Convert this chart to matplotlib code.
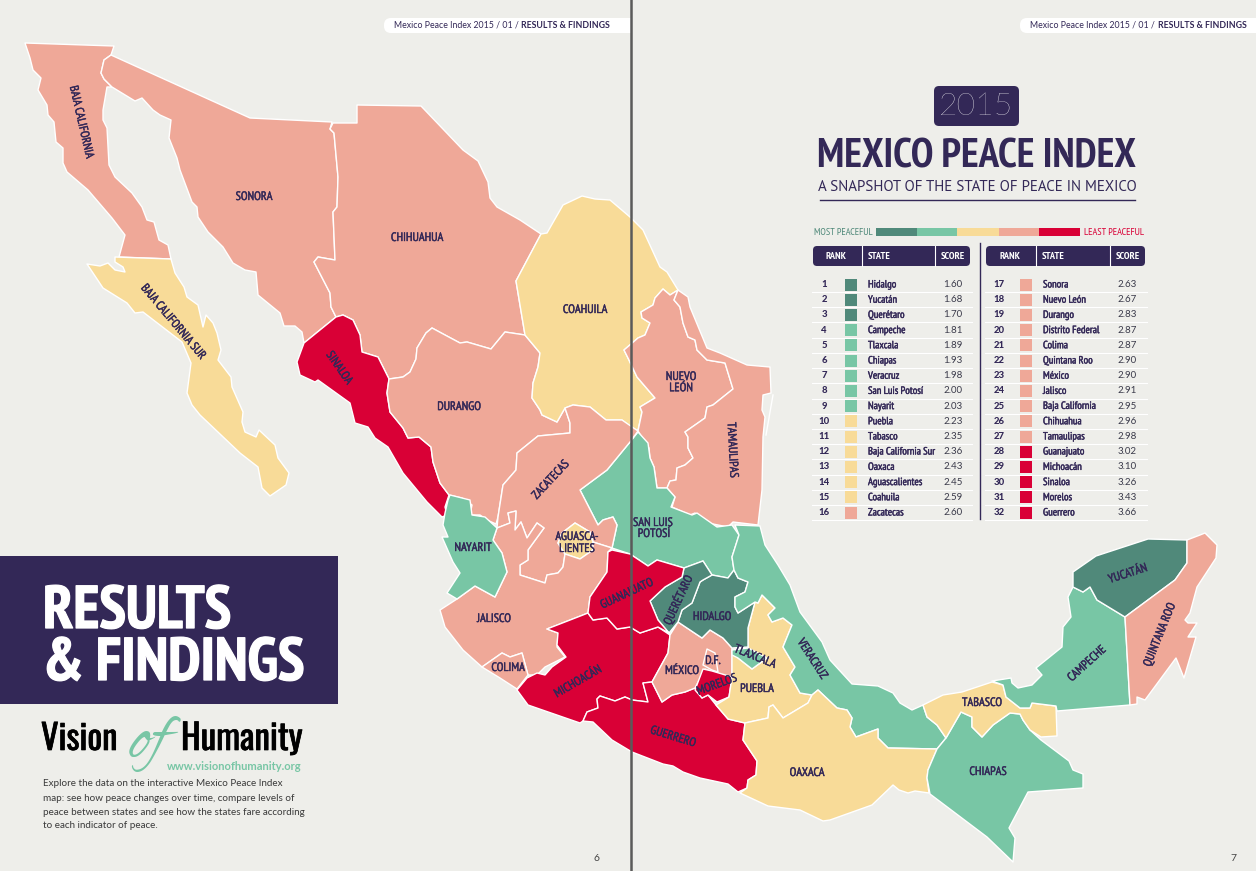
import matplotlib
matplotlib.use('Agg')
import logging
import matplotlib.pyplot as plt
import matplotlib.patheffects as pe
from matplotlib.patches import Polygon, Rectangle, FancyBboxPatch

logging.getLogger('matplotlib.font_manager').setLevel(logging.ERROR)

NAVY = '#332857'
BG = '#EEEEEA'
DARK_GREEN = '#50897A'
GREEN = '#78C6A5'
YELLOW = '#F8DB98'
SALMON = '#EFA898'
RED = '#D90036'
NARROW = ['PT Sans Narrow', 'Liberation Sans Narrow', 'Roboto', 'DejaVu Sans']
WIDE = ['Lato', 'Open Sans', 'DejaVu Sans']
LOGO = ['Oswald', 'PT Sans Narrow', 'Roboto', 'DejaVu Sans']

# ranking table
ranks_left = list(range(1, 17))
states_left = ['Hidalgo', 'Yucatán', 'Querétaro', 'Campeche', 'Tlaxcala', 'Chiapas', 'Veracruz',
               'San Luis Potosí', 'Nayarit', 'Puebla', 'Tabasco', 'Baja California Sur', 'Oaxaca',
               'Aguascalientes', 'Coahuila', 'Zacatecas']
scores_left = [1.60, 1.68, 1.70, 1.81, 1.89, 1.93, 1.98, 2.00, 2.03, 2.23, 2.35, 2.36, 2.43, 2.45, 2.59, 2.60]

ranks_right = list(range(17, 33))
states_right = ['Sonora', 'Nuevo León', 'Durango', 'Distrito Federal', 'Colima', 'Quintana Roo', 'México',
                'Jalisco', 'Baja California', 'Chihuahua', 'Tamaulipas', 'Guanajuato', 'Michoacán',
                'Sinaloa', 'Morelos', 'Guerrero']
scores_right = [2.63, 2.67, 2.83, 2.87, 2.87, 2.90, 2.90, 2.91, 2.95, 2.96, 2.98, 3.02, 3.10, 3.26, 3.43, 3.66]

# state outlines, in page pixels
baja_california = [(25,43),(114,46),(111,55),(104,60),(101,73),(104,79),(112,87),(107,87),(103,110),(103,120),
                   (107,128),(109,165),(115,177),(132,193),(142,207),(147,220),(154,222),(159,240),(168,245),
                   (171,259),(119,257),(125,235),(112,218),(88,190),(67,172),(63,163),(63,148),(56,142),
                   (54,122),(48,115),(47,105),(38,90),(41,78),(33,70),(30,58)]
baja_sur = [(115,257),(171,259),(175,273),(184,287),(187,297),(198,305),(203,327),(206,315),(213,323),(217,333),
            (221,350),(218,360),(231,377),(232,387),(243,412),(242,422),(245,432),(256,437),(259,430),(275,445),
            (278,458),(289,473),(286,485),(270,496),(262,488),(258,467),(240,453),(200,415),(192,405),(187,393),
            (191,363),(182,342),(143,312),(135,313),(127,303),(103,288),(87,264),(100,266),(108,263),(115,270),
            (125,272),(123,267),(115,262)]
sonora = [(111,55),(250,118),(332,122),(330,129),(334,133),(338,177),(337,207),(333,212),(335,260),(318,257),
          (314,262),(330,293),(331,307),(336,317),(304,343),(302,332),(295,326),(284,326),(280,313),(258,295),
          (256,272),(245,270),(233,263),(223,247),(208,232),(198,217),(197,207),(192,202),(180,170),(177,158),
          (169,138),(171,120),(160,115),(153,110),(142,98),(135,101),(112,87),(104,79),(101,73),(104,60)]
chihuahua = [(333,123),(357,123),(357,105),(421,106),(463,150),(478,161),(488,182),(490,198),(497,207),(520,220),
             (541,234),(516,281),(525,335),(505,332),(491,349),(467,342),(460,343),(445,335),(432,328),(426,333),
             (417,348),(416,359),(410,372),(403,377),(389,379),(378,357),(362,352),(360,335),(353,320),(343,315),
             (336,317),(331,307),(330,293),(314,262),(318,257),(335,260),(333,212),(337,207),(338,177),(334,133),
             (330,129)]
sinaloa = [(304,343),(336,317),(343,315),(353,320),(360,335),(362,352),(378,357),(389,379),(387,393),(390,412),
           (403,428),(408,438),(419,437),(431,447),(433,462),(440,483),(449,495),(445,507),(447,515),(442,517),
           (427,502),(403,473),(388,447),(375,438),(368,427),(355,423),(350,403),(318,380),(315,382),(300,375),
           (297,362)]
durango = [(389,379),(403,377),(410,372),(416,359),(417,348),(426,333),(432,328),(445,335),(460,343),(467,342),
           (491,349),(505,332),(525,335),(540,353),(538,367),(533,383),(532,398),(540,410),(542,415),(557,422),
           (565,408),(570,423),(570,433),(538,436),(517,453),(516,470),(503,485),(498,517),(496,524),(487,520),
           (480,515),(470,515),(472,505),(462,498),(449,495),(440,483),(433,462),(431,447),(419,437),(408,438),
           (403,428),(390,412),(387,393)]
coahuila = [(541,234),(547,233),(563,205),(582,196),(595,199),(610,200),(630,217),(643,230),(660,267),(667,272),
            (678,290),(670,295),(663,289),(655,298),(653,305),(641,312),(642,318),(650,323),(645,335),(638,338),
            (624,350),(628,358),(637,377),(655,398),(640,407),(642,412),(638,430),(633,429),(622,420),(606,420),
            (590,407),(573,405),(565,408),(557,422),(542,415),(540,410),(532,398),(533,383),(538,367),(540,353),
            (525,335),(516,281)]
nuevo_leon = [(663,289),(670,295),(678,290),(674,300),(680,307),(683,323),(688,337),(695,340),(697,350),(707,360),
              (725,363),(733,389),(713,405),(707,407),(705,418),(685,432),(688,437),(688,448),(693,458),(685,465),
              (677,468),(676,480),(670,481),(667,488),(657,488),(654,467),(650,458),(649,448),(638,431),(642,412),
              (640,407),(655,398),(637,377),(628,358),(624,350),(638,338),(645,335),(650,323),(642,318),(641,312),
              (653,305),(655,298)]
tamaulipas = [(678,290),(688,297),(690,307),(707,348),(720,353),(747,365),(770,367),(771,393),(763,395),(762,410),
              (765,417),(763,437),(762,490),(758,525),(733,522),(728,527),(703,522),(695,513),(690,515),(672,507),
              (675,497),(667,488),(670,481),(676,480),(677,468),(685,465),(693,458),(688,448),(688,437),(685,432),
              (705,418),(707,407),(713,405),(733,389),(725,363),(707,360),(697,350),(695,340),(688,337),(683,323),
              (680,307),(674,300)]
san_luis = [(638,432),(648,443),(650,458),(654,467),(657,488),(667,488),(675,497),(671,507),(692,515),(697,513),
            (717,527),(732,525),(739,535),(732,557),(734,570),(728,578),(712,575),(703,561),(684,568),(657,560),
            (648,566),(630,554),(612,548),(617,525),(613,517),(603,520),(598,525),(580,490),(607,470),(630,442)]
zacatecas = [(565,408),(573,405),(590,407),(606,420),(622,420),(638,431),(630,442),(607,470),(580,490),(598,525),
             (603,520),(613,517),(617,525),(612,548),(593,542),(590,532),(575,523),(562,533),(558,543),(565,554),
             (563,567),(558,573),(547,575),(545,583),(520,575),(520,565),(528,560),(528,550),(544,528),(537,523),
             (527,538),(521,522),(515,530),(516,511),(508,513),(510,523),(497,528),(498,517),(503,485),(516,470),
             (517,453),(538,436),(570,433),(570,423)]
aguascalientes = [(575,523),(590,532),(593,542),(593,550),(580,559),(565,554),(558,543),(562,533)]
jalisco = [(497,528),(493,540),(502,553),(507,572),(495,597),(475,586),(457,599),(440,610),(445,627),(463,650),
           (482,667),(502,653),(510,657),(522,653),(528,675),(537,675),(545,667),(565,657),(557,647),(558,633),
           (547,629),(583,615),(588,613),(590,597),(607,572),(608,552),(612,548),(593,542),(593,550),(580,559),
           (565,554),(563,567),(558,573),(547,575),(545,583),(520,575),(520,565),(528,560),(528,550),(544,528),
           (537,523),(527,538),(521,522),(515,530),(516,511),(508,513),(510,523)]
nayarit = [(450,495),(470,500),(472,515),(485,517),(497,528),(493,540),(502,553),(507,572),(495,597),(475,586),
           (457,599),(447,593),(460,573),(453,562),(442,537),(448,537),(443,525),(445,513),(448,500)]
colima = [(482,667),(502,653),(510,657),(522,653),(528,675),(517,689),(500,678)]
michoacan = [(547,629),(583,615),(588,613),(593,620),(607,618),(617,629),(630,627),(640,633),(658,627),(670,635),
             (668,653),(652,682),(643,683),(648,702),(632,700),(625,697),(615,701),(600,696),(597,699),(598,708),
             (587,712),(583,721),(580,723),(528,705),(517,690),(527,678),(537,673),(545,675),(552,667),(566,657),
             (557,645),(558,633)]
guerrero = [(583,721),(587,712),(598,708),(597,699),(600,696),(615,701),(625,697),(632,700),(648,702),(643,683),
            (652,682),(662,702),(672,695),(685,692),(695,688),(702,698),(708,695),(716,705),(728,719),(745,723),
            (743,740),(757,761),(756,775),(748,780),(747,788),(738,792),(728,784),(700,778),(683,772),(673,766),
            (663,764),(632,752),(612,740),(593,722)]
mexico_state = [(678,622),(702,638),(710,630),(723,638),(732,648),(732,677),(728,677),(705,669),(695,688),(685,692),
                (672,695),(662,702),(652,682),(668,653),(670,635)]
distrito_federal = [(707,649),(715,653),(718,672),(712,670),(703,665),(705,657)]
morelos = [(703,669),(712,671),(732,677),(729,697),(717,702),(708,695),(702,698),(695,690)]
puebla = [(762,595),(775,608),(768,615),(772,622),(783,618),(792,625),(783,647),(795,667),(790,675),(800,693),
          (812,695),(808,703),(783,718),(773,705),(769,707),(768,718),(745,723),(728,719),(716,705),(729,697),
          (732,677),(732,650),(738,658),(752,669),(767,658),(748,648),(748,628),(755,602),(758,603)]
tlaxcala = [(732,650),(748,648),(767,658),(752,669),(738,658),(732,655)]
hidalgo = [(703,580),(712,575),(728,578),(734,570),(738,578),(748,582),(745,592),(735,597),(735,607),(738,613),
           (755,602),(748,628),(748,647),(732,648),(723,638),(710,630),(702,638),(678,622),(682,610),(692,603),(700,582)]
queretaro = [(684,568),(703,561),(712,575),(703,580),(700,582),(692,603),(682,610),(678,622),(669,633),(658,620),
             (650,601),(665,587),(682,577)]
guanajuato = [(612,550),(630,554),(648,566),(657,560),(684,568),(682,577),(665,587),(650,601),(658,620),(669,633),
              (658,627),(640,633),(630,627),(617,629),(607,618),(593,620),(588,613),(590,597),(607,572),(608,552)]
veracruz = [(735,525),(760,526),(765,545),(778,565),(790,585),(800,612),(822,642),(830,660),(852,684),(878,686),
            (893,693),(900,703),(912,710),(923,705),(927,717),(937,725),(946,738),(937,749),(888,748),(878,738),
            (878,729),(856,737),(850,727),(852,718),(847,710),(837,708),(818,690),(812,695),(800,693),(790,675),
            (795,667),(783,647),(792,625),(783,618),(772,622),(768,615),(775,608),(762,595),(758,603),(755,602),
            (738,613),(735,607),(735,597),(745,592),(748,582),(738,578),(734,570),(732,557),(739,535)]
oaxaca = [(745,723),(768,718),(769,707),(773,705),(783,718),(808,703),(812,695),(818,690),(837,708),(847,710),
          (852,718),(850,727),(856,737),(878,729),(878,738),(888,748),(937,749),(928,770),(927,778),(929,793),
          (915,791),(908,793),(899,790),(893,785),(872,805),(830,820),(823,821),(800,810),(768,806),(740,793),
          (747,788),(748,780),(756,775),(757,761),(743,740)]
chiapas = [(961,712),(972,717),(972,727),(982,737),(993,725),(1010,713),(1020,714),(1023,720),(1030,730),(1041,740),
           (1069,761),(1073,770),(1083,774),(1083,788),(1028,792),(1009,828),(1015,838),(1013,862),(987,837),
           (930,794),(927,778),(928,770),(937,749),(946,738)]
tabasco = [(923,705),(943,695),(962,692),(992,682),(1003,685),(1006,697),(1020,708),(1030,708),(1032,703),(1056,706),
           (1057,736),(1041,737),(1030,730),(1023,720),(1020,714),(1010,713),(993,725),(982,737),(972,727),(972,717),
           (961,712),(946,738),(937,725),(927,717)]
campeche = [(992,681),(1011,678),(1012,683),(1018,688),(1032,685),(1042,675),(1036,668),(1062,647),(1063,627),
            (1071,617),(1068,597),(1073,587),(1083,592),(1090,587),(1097,600),(1125,617),(1130,705),(1057,711),
            (1056,706),(1032,703),(1030,708),(1020,708),(1006,697),(1003,685)]
yucatan = [(1073,572),(1096,556),(1148,539),(1187,540),(1187,563),(1175,580),(1152,597),(1125,617),(1097,600),
           (1090,587),(1083,592),(1073,587)]
quintana_roo = [(1187,540),(1200,535),(1205,533),(1217,545),(1216,558),(1197,587),(1190,613),(1185,620),(1188,623),
                (1197,623),(1188,637),(1196,637),(1184,678),(1176,658),(1145,700),(1137,697),(1137,704),(1130,705),
                (1125,617),(1152,597),(1175,580),(1187,563)]

outlines = {
    'Baja California': baja_california, 'Baja California Sur': baja_sur, 'Sonora': sonora, 'Chihuahua': chihuahua,
    'Sinaloa': sinaloa, 'Durango': durango, 'Coahuila': coahuila, 'Nuevo León': nuevo_leon, 'Tamaulipas': tamaulipas,
    'San Luis Potosí': san_luis, 'Zacatecas': zacatecas, 'Aguascalientes': aguascalientes, 'Jalisco': jalisco,
    'Nayarit': nayarit, 'Colima': colima, 'Michoacán': michoacan, 'Guerrero': guerrero, 'México': mexico_state,
    'Distrito Federal': distrito_federal, 'Morelos': morelos, 'Puebla': puebla, 'Tlaxcala': tlaxcala,
    'Hidalgo': hidalgo, 'Querétaro': queretaro, 'Guanajuato': guanajuato, 'Veracruz': veracruz, 'Oaxaca': oaxaca,
    'Chiapas': chiapas, 'Tabasco': tabasco, 'Campeche': campeche, 'Yucatán': yucatan, 'Quintana Roo': quintana_roo,
}

# text, x, y, rotation
map_labels = [
    ('BAJA CALIFORNIA', 81, 122, -77), ('BAJA CALIFORNIA SUR', 173, 322, -50), ('SONORA', 254, 197, 0),
    ('CHIHUAHUA', 417, 238, 0), ('COAHUILA', 585, 310, 0), ('NUEVO', 681, 377, 0), ('LEÓN', 681, 388, 0),
    ('TAMAULIPAS', 732, 450, -87), ('SINALOA', 339, 368, -55), ('DURANGO', 459, 407, 0), ('ZACATECAS', 551, 480, 47),
    ('NAYARIT', 473, 548, 0), ('AGUASCA-', 577, 537, 0), ('LIENTES', 577, 549, 0), ('SAN LUIS', 653, 523, 0),
    ('POTOSÍ', 654, 534, 0), ('GUANAJUATO', 627, 594, 25), ('QUERÉTARO', 678, 600, 65), ('HIDALGO', 712, 617, 0),
    ('JALISCO', 494, 619, 0), ('COLIMA', 508, 668, 0), ('MICHOACÁN', 578, 682, 30), ('MÉXICO', 682, 671, 0),
    ('D.F.', 713, 661, 0), ('MORELOS', 717, 685, 20), ('TLAXCALA', 755, 657, -22), ('PUEBLA', 757, 689, 0),
    ('VERACRUZ', 812, 659, -57), ('GUERRERO', 673, 737, -17), ('OAXACA', 807, 773, 0), ('TABASCO', 982, 703, 0),
    ('CHIAPAS', 988, 772, 0), ('CAMPECHE', 1087, 664, 42), ('YUCATÁN', 1128, 574, 18), ('QUINTANA ROO', 1160, 635, 68),
]

blurb = ['Explore the data on the interactive Mexico Peace Index',
         'map: see how peace changes over time, compare levels of',
         'peace between states and see how the states fare according',
         'to each indicator of peace.']


def scoreColour(score):
    if score <= 1.70:
        return DARK_GREEN
    if score <= 2.03:
        return GREEN
    if score <= 2.59:
        return YELLOW
    if score <= 2.98:
        return SALMON
    return RED


def pill(ax, x0, x1, y0, y1, colour, rad):
    ax.add_patch(FancyBboxPatch((x0 + rad, y0 + rad), x1 - x0 - 2 * rad, y1 - y0 - 2 * rad,
                                boxstyle='round,pad=%f,rounding_size=%f' % (rad, rad),
                                fc=colour, ec='none', zorder=3))


def heavier(width, colour):
    # the installed weights are a little lighter than the print
    return [pe.withStroke(linewidth=width, foreground=colour)]


fig = plt.figure(figsize=(12.56, 8.71), dpi=100, facecolor=BG)
ax = fig.add_axes([0, 0, 1, 1])
ax.set_xlim(0, 1256)
ax.set_ylim(871, 0)
ax.axis('off')

all_states = states_left + states_right
all_scores = scores_left + scores_right
score_of = dict(zip(all_states, all_scores))

# map
for name, pts in outlines.items():
    ax.add_patch(Polygon(pts, closed=True, fc=scoreColour(score_of[name]), ec='white', lw=1.0,
                         joinstyle='round', zorder=1))
ax.plot([773, 766], [395, 435], color='white', lw=1.0, zorder=1)

for label, x, y, rot in map_labels:
    ax.text(x, y, label, family=NARROW, fontsize=8.8, color=NAVY, rotation=rot, rotation_mode='anchor',
            ha='center', va='center', zorder=4, path_effects=heavier(0.3, NAVY))

# running heads
pill(ax, 384, 650, 18, 33, 'white', 7)
pill(ax, 1020, 1290, 18, 33, 'white', 7)
ax.add_patch(Rectangle((632, 14), 30, 24, fc=BG, ec='none', zorder=3.5))
for x_head, x_end in [(394, 610), (1030, 1247)]:
    ax.text(x_head, 25.5, 'Mexico Peace Index 2015 / 01 /', family=WIDE, fontsize=6.3, color=NAVY,
            va='center', zorder=5)
    ax.text(x_end, 25.5, 'RESULTS & FINDINGS', family=WIDE, fontsize=6.3, fontweight='bold', color=NAVY,
            ha='right', va='center', zorder=5)

# left panel
ax.add_patch(Rectangle((0, 556), 338, 148, fc=NAVY, ec='none', zorder=2))
ax.text(43, 628, 'RESULTS', family=NARROW, fontsize=43.5, fontweight='bold', color='white', va='baseline',
        zorder=5, path_effects=heavier(0.9, 'white'))
ax.text(43, 680, '& FINDINGS', family=NARROW, fontsize=43.5, fontweight='bold', color='white', va='baseline',
        zorder=5, path_effects=heavier(0.9, 'white'))
ax.text(41, 750, 'Vision', family=LOGO, fontsize=25, color='black', va='baseline', zorder=5,
        path_effects=heavier(0.5, 'black'))
ax.text(181, 750, 'Humanity', family=LOGO, fontsize=25.3, color='black', va='baseline', zorder=5,
        path_effects=heavier(0.5, 'black'))
ax.text(149, 757, 'of', family=['Alex Brush', 'Liberation Serif', 'DejaVu Serif'], fontsize=54, color=GREEN,
        ha='center', va='baseline', zorder=5)
ax.text(302, 766, 'www.visionofhumanity.org', family=WIDE, fontsize=8, fontweight='bold',
        color=GREEN, ha='right', va='center', zorder=5)
for line, y in zip(blurb, [783, 798, 812, 825]):
    ax.text(43, y, line, family=WIDE, fontsize=7.1, color='#3a3a3a', va='center', zorder=5)

# title block
pill(ax, 934, 1019, 86, 126, NAVY, 5)
ax.text(976.5, 106.5, '2015', family=WIDE, fontsize=23, fontweight='light', color='white',
        ha='center', va='center', zorder=5)
ax.text(976.5, 168, 'MEXICO PEACE INDEX', family=NARROW, fontsize=29.5, fontweight='bold', color=NAVY,
        ha='center', va='baseline', zorder=5)
ax.text(977.5, 191, 'A SNAPSHOT OF THE STATE OF PEACE IN MEXICO', family=['PT Sans', 'Open Sans', 'DejaVu Sans'],
        fontsize=10.8, color=NAVY, ha='center', va='baseline', zorder=5)
ax.plot([820, 1135], [200, 200], color=NAVY, lw=1.0, zorder=5)

# colour key
key_colours = [DARK_GREEN, GREEN, YELLOW, SALMON, RED]
key_edges = [876, 917, 957, 999, 1039, 1080]
for i in range(5):
    ax.add_patch(Rectangle((key_edges[i], 228), key_edges[i + 1] - key_edges[i], 8, fc=key_colours[i], ec='none', zorder=5))
ax.text(873, 232, 'MOST PEACEFUL', family=NARROW, fontsize=7.3, color=DARK_GREEN, ha='right', va='center', zorder=5)
ax.text(1084, 232, 'LEAST PEACEFUL', family=NARROW, fontsize=7.3, color=RED, ha='left', va='center', zorder=5)

# table
ax.plot([979.5, 979.5], [243, 519], color=NAVY, lw=1.0, zorder=5)
columns = [
    (ranks_left, states_left, scores_left, 813, 970, 862, 935, 824, 845, 868, 953),
    (ranks_right, states_right, scores_right, 986, 1145, 1036, 1110, 999, 1020, 1043, 1127),
]
for ranks, states, scores, x0, x1, d0, d1, x_rank, x_swatch, x_state, x_score in columns:
    pill(ax, x0, x1, 246, 266, NAVY, 4)
    for d in (d0, d1):
        ax.plot([d, d], [246, 266], color='white', lw=0.8, zorder=4)
    ax.text((x0 + d0) / 2 - 1, 256, 'RANK', family=NARROW, fontsize=7.4, fontweight='bold', color='white',
            ha='center', va='center', zorder=5)
    ax.text(d0 + 6, 256, 'STATE', family=NARROW, fontsize=7.4, fontweight='bold', color='white',
            va='center', zorder=5)
    ax.text((d1 + x1) / 2, 256, 'SCORE', family=NARROW, fontsize=7.4, fontweight='bold', color='white',
            ha='center', va='center', zorder=5)
    for i in range(len(ranks)):
        y = 284.5 + i * 15.2
        ax.plot([x0 - 1, x1 + 2], [y + 7.6, y + 7.6], color='white', lw=0.8, zorder=2)
        ax.add_patch(Rectangle((x_swatch, y - 6), 12, 12, fc=scoreColour(scores[i]), ec='none', zorder=5))
        ax.text(x_rank, y, str(ranks[i]), family=WIDE, fontsize=6.8, fontweight='black', color=NAVY,
                ha='center', va='center', zorder=5)
        ax.text(x_state, y, states[i], family=NARROW, fontsize=7.6, color=NAVY, va='center', zorder=5,
                path_effects=heavier(0.3, NAVY))
        ax.text(x_score, y, '%.2f' % scores[i], family=WIDE, fontsize=7, color='#3a3a4a',
                ha='center', va='center', zorder=5)

# spine and folios
ax.plot([631, 631], [0, 871], color='#5a5a5a', lw=1.8, zorder=6)
ax.text(597, 858, '6', family=WIDE, fontsize=7.5, color='#444444', ha='center', va='center', zorder=5)
ax.text(1233, 858, '7', family=WIDE, fontsize=7.5, color='#444444', ha='center', va='center', zorder=5)

fig.savefig('out.png', dpi=100, facecolor=BG)
